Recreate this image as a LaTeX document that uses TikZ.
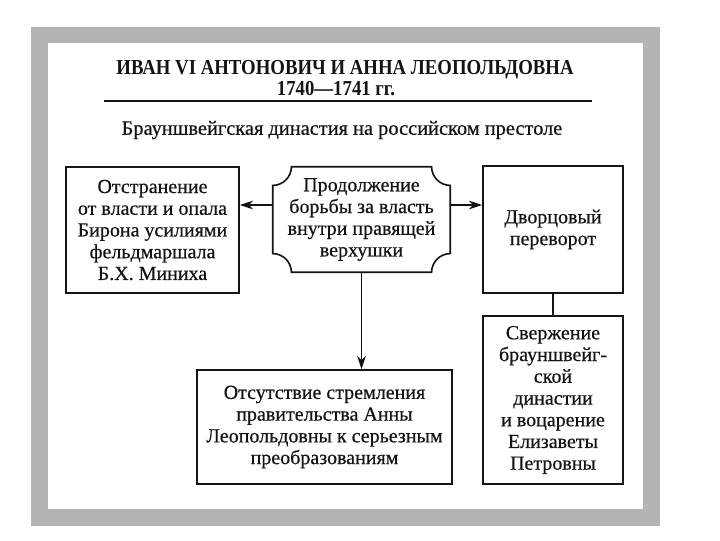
\documentclass[tikz,border=0pt]{standalone}
\usepackage{fontspec}
\setmainfont{Liberation Serif}
\newfontfamily\inkfont[FakeBold=0.5]{Liberation Serif}
\newfontfamily\headfont[FakeStretch=0.88]{Liberation Serif}
\usetikzlibrary{arrows.meta, calc}
\definecolor{framegrey}{RGB}{180,180,180}
\definecolor{inkcolor}{RGB}{20,20,20}
\newcommand{\boxfont}{\inkfont\fontsize{15}{16.3}\selectfont}
\newcommand{\notchr}{14pt}
\newcommand{\notchk}{7.7pt}
\tikzset{
    block/.style={rectangle, draw=inkcolor, line width=1.2pt, inner sep=0pt,
        align=center, font=\boxfont, text=inkcolor},
    plaque/.style={rectangle, inner sep=0pt, align=center, font=\boxfont, text=inkcolor},
    outline/.style={draw=inkcolor, line width=1.2pt},
    arrow/.style={-{Stealth[length=10pt,width=6.5pt]}, draw=inkcolor, line width=1pt},
    link/.style={draw=inkcolor, line width=1pt}
}

\begin{document}
\begin{tikzpicture}[x=0.75pt, y=-0.75pt]

    \useasboundingbox (0,0) rectangle (720,540);
    % grey frame
    \fill[framegrey] (31,27) rectangle (660,526);
    \fill[white] (48,43) rectangle (643,509);

    % heading
    \node[font=\headfont\bfseries\fontsize{16}{16}\selectfont, text=inkcolor] (title) at (345,70) {ИВАН VI АНТОНОВИЧ И АННА ЛЕОПОЛЬДОВНА};
    \node[font=\headfont\bfseries\fontsize{16}{16}\selectfont, text=inkcolor] (years) at (336,89) {1740—1741 гг.};
    \draw[inkcolor, line width=1.2pt] (104,101) -- (592,101);
    \node[font=\inkfont\fontsize{15.3}{16}\selectfont, text=inkcolor] (dynasty) at (342,130) {Брауншвейгская династия на российском престоле};

    % boxes
    \node[plaque, minimum width=132.75pt, minimum height=78.75pt] (struggle) at (361.5,219.5) {Продолжение\\ борьбы за власть\\ внутри правящей\\ верхушки};
    \draw[outline]
        ([xshift=\notchr]struggle.north west) -- ([xshift=-\notchr]struggle.north east)
        .. controls +(0pt,-\notchk) and +(-\notchk,0pt) .. ([yshift=-\notchr]struggle.north east)
        -- ([yshift=\notchr]struggle.south east)
        .. controls +(-\notchk,0pt) and +(0pt,\notchk) .. ([xshift=-\notchr]struggle.south east)
        -- ([xshift=\notchr]struggle.south west)
        .. controls +(0pt,\notchk) and +(\notchk,0pt) .. ([yshift=\notchr]struggle.south west)
        -- ([yshift=-\notchr]struggle.north west)
        .. controls +(\notchk,0pt) and +(0pt,-\notchk) .. cycle;

    \node[block, minimum width=129.75pt, minimum height=94.5pt] (biron) at (152.5,230) {Отстранение\\ от власти и опала\\ Бирона усилиями\\ фельдмаршала\\ Б.Х. Миниха};
    \node[block, minimum width=105pt, minimum height=95.25pt] (coup) at (553,229.5) {Дворцовый\\ переворот};
    \node[block, minimum width=191.25pt, minimum height=85.5pt] (reforms) at (324.5,427) {Отсутствие стремления\\ правительства Анны\\ Леопольдовны к серьезным\\ преобразованиям};
    \node[block, minimum width=105pt, minimum height=126pt] (overthrow) at (553,400) {Свержение\\ брауншвейг-\\ ской\\ династии\\ и воцарение\\ Елизаветы\\ Петровны};

    % connectors
    \coordinate (armlevel) at (0,205);
    \draw[arrow] (struggle.west |- armlevel) -- (biron.east |- armlevel);
    \draw[arrow] (struggle.east |- armlevel) -- (coup.west |- armlevel);
    \draw[arrow] (struggle.south) -- (struggle.south |- reforms.north);
    \draw[link] (coup.south) -- (overthrow.north);

\end{tikzpicture}
\end{document}
